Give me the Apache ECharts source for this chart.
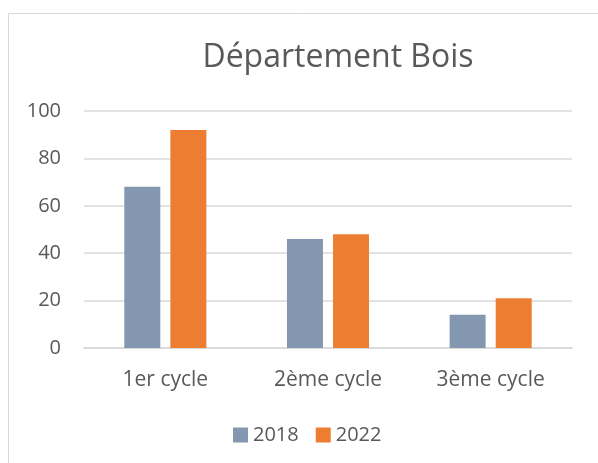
<!DOCTYPE html>
<html>
<head>
<meta charset="utf-8">
<script src="https://cdn.jsdelivr.net/npm/echarts@6/dist/echarts.min.js"></script>
<style>
  html, body { margin: 0; padding: 0; background: #fff; }
  #main { width: 598px; height: 463px; }
</style>
</head>
<body>
<div id="main"></div>
<script>
// données
var cycles = ['1er cycle', '2ème cycle', '3ème cycle'];
var valeurs2018 = [68, 46, 14];
var valeurs2022 = [92, 48, 21];
var annees = ['2018', '2022'];

var chart = echarts.init(document.getElementById('main'), null, { renderer: 'canvas' });
var police = '"Open Sans", "Noto Sans", sans-serif';

var option = {
  backgroundColor: '#fff',
  animation: false,
  color: ['#8497B0', '#ED7D31'],
  title: {
    text: 'Département Bois',
    left: 333,
    textAlign: 'center',
    top: 37,
    textStyle: {
      fontFamily: police,
      fontSize: 32,
      fontWeight: 'normal',
      color: '#595959'
    }
  },
  legend: {
    data: annees,
    left: 228,
    top: 420,
    itemWidth: 15,
    itemHeight: 15,
    itemGap: 17,
    icon: 'rect',
    textStyle: {
      fontFamily: police,
      fontSize: 20,
      color: '#595959',
      padding: [0, 0, 0, 0]
    }
  },
  grid: {
    left: 84,
    right: 26,
    top: 111,
    bottom: 115,
    containLabel: false
  },
  xAxis: {
    type: 'category',
    data: cycles,
    axisTick: { show: false },
    axisLine: { lineStyle: { color: '#D9D9D9', width: 1.5 } },
    axisLabel: {
      fontFamily: police,
      fontSize: 21,
      color: '#595959',
      margin: 22
    }
  },
  yAxis: {
    type: 'value',
    min: 0,
    max: 100,
    interval: 20,
    axisLine: { show: false },
    axisTick: { show: false },
    splitLine: { lineStyle: { color: '#D9D9D9', width: 1.5 } },
    axisLabel: {
      fontFamily: police,
      fontSize: 20,
      color: '#595959',
      margin: 23
    }
  },
  graphic: [
    {
      type: 'rect',
      silent: true,
      shape: { x: 8.5, y: 13.5, width: 700, height: 600 },
      style: { fill: 'none', stroke: '#D9D9D9', lineWidth: 1 }
    }
  ],
  series: [
    {
      name: '2018',
      type: 'bar',
      data: valeurs2018,
      barWidth: 36,
      barGap: '28%'
    },
    {
      name: '2022',
      type: 'bar',
      data: valeurs2022,
      barWidth: 36,
      barGap: '28%'
    }
  ]
};

chart.setOption(option);
</script>
</body>
</html>
